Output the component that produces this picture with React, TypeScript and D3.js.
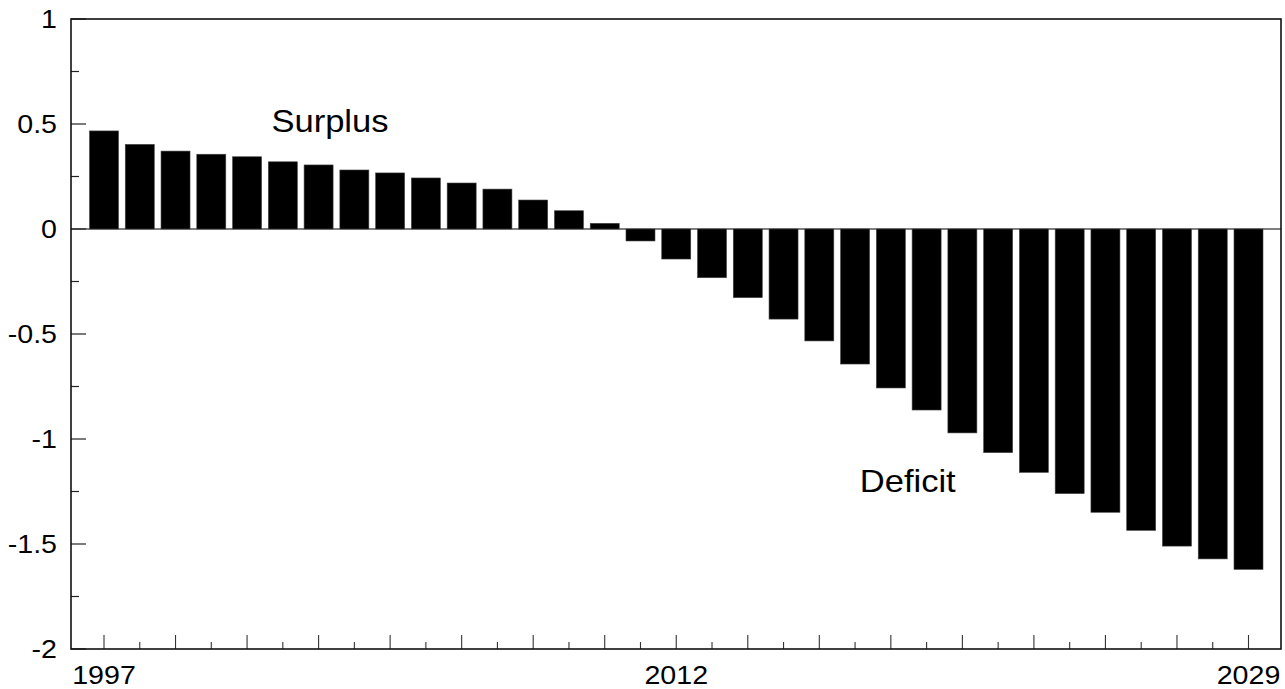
import React from "react";
import * as d3 from "d3";

const years: number[] = d3.range(1997, 2030);
const balance: number[] = [
  0.467, 0.403, 0.371, 0.356, 0.344, 0.32, 0.305, 0.281, 0.267, 0.243, 0.219,
  0.19, 0.138, 0.087, 0.027, -0.057, -0.143, -0.232, -0.327, -0.429, -0.533,
  -0.643, -0.757, -0.862, -0.971, -1.065, -1.159, -1.26, -1.349, -1.435, -1.51,
  -1.571, -1.621,
];
const yTickValues: number[] = [1, 0.5, 0, -0.5, -1, -1.5, -2];
const yTickLabels: string[] = ["1", "0.5", "0", "-0.5", "-1", "-1.5", "-2"];
const xTickLabels: string[] = ["1997", "2012", "2029"];
const xTickAt: number[] = [1997, 2013, 2029];
const annotations = [
  { text: "Surplus", year: 2001.68, value: 0.463 },
  { text: "Deficit", year: 2018.13, value: -1.254 },
];

const W = 1285;
const H = 689;
const left = 71;
const right = 1281;
const top = 19;
const bottom = 649;

export default function App() {
  const y = d3.scaleLinear().domain([-2, 1]).range([bottom, top]);
  const x = d3.scaleLinear().domain([1997, 2029]).range([104, 1248.5]);
  const barW = 29;
  const minorY = d3.range(-2, 1.001, 0.25);
  const font = "'Liberation Sans', Arial, Helvetica, sans-serif";
  const sx = 1.1;

  return (
    <svg
      width={W}
      height={H}
      style={{ position: "absolute", left: 0, top: 0, background: "#fff" }}
    >
      <rect x={0} y={0} width={W} height={H} fill="#fff" />
      {/* zero line */}
      <line x1={left} x2={right} y1={y(0)} y2={y(0)} stroke="#555" strokeWidth={1.5} />
      {/* bars */}
      {years.map((yr, i) => {
        const v = balance[i];
        const y0 = y(Math.max(0, v));
        const y1 = y(Math.min(0, v));
        return (
          <rect
            key={yr}
            x={x(yr) - barW / 2}
            y={y0}
            width={barW}
            height={y1 - y0}
            fill="#000"
            stroke="#444"
            strokeWidth={0.6}
          />
        );
      })}
      {/* y ticks */}
      {minorY.map((v, i) => {
        const major = Math.abs(v * 2 - Math.round(v * 2)) < 1e-6;
        return (
          <line
            key={"yt" + i}
            x1={left}
            x2={left + (major ? 15 : 8)}
            y1={y(v)}
            y2={y(v)}
            stroke="#222"
            strokeWidth={1.2}
          />
        );
      })}
      {/* x ticks */}
      {years.map((yr, i) => (
        <line
          key={"xt" + yr}
          x1={x(yr)}
          x2={x(yr)}
          y1={bottom}
          y2={bottom - (i % 2 === 0 ? 14 : 7)}
          stroke="#333"
          strokeWidth={1.1}
        />
      ))}
      {/* frame */}
      <rect
        x={left}
        y={top}
        width={right - left}
        height={bottom - top}
        fill="none"
        stroke="#111"
        strokeWidth={1.6}
      />
      {/* y labels */}
      {yTickValues.map((v, i) => (
        <text
          key={"yl" + i}
          transform={`translate(57,${y(v)}) scale(${sx},1)`}
          dy="0.36em"
          textAnchor="end"
          fontFamily={font}
          fontSize={26}
          fill="#000"
        >
          {yTickLabels[i]}
        </text>
      ))}
      {/* x labels */}
      {xTickLabels.map((t, i) => (
        <text
          key={"xl" + i}
          transform={`translate(${x(xTickAt[i])},684) scale(${sx},1)`}
          textAnchor="middle"
          fontFamily={font}
          fontSize={26}
          fill="#000"
        >
          {t}
        </text>
      ))}
      {annotations.map((a) => (
        <text
          key={a.text}
          transform={`translate(${x(a.year)},${y(a.value)}) scale(1.08,1)`}
          fontFamily={font}
          fontSize={32}
          fill="#000"
        >
          {a.text}
        </text>
      ))}
    </svg>
  );
}
